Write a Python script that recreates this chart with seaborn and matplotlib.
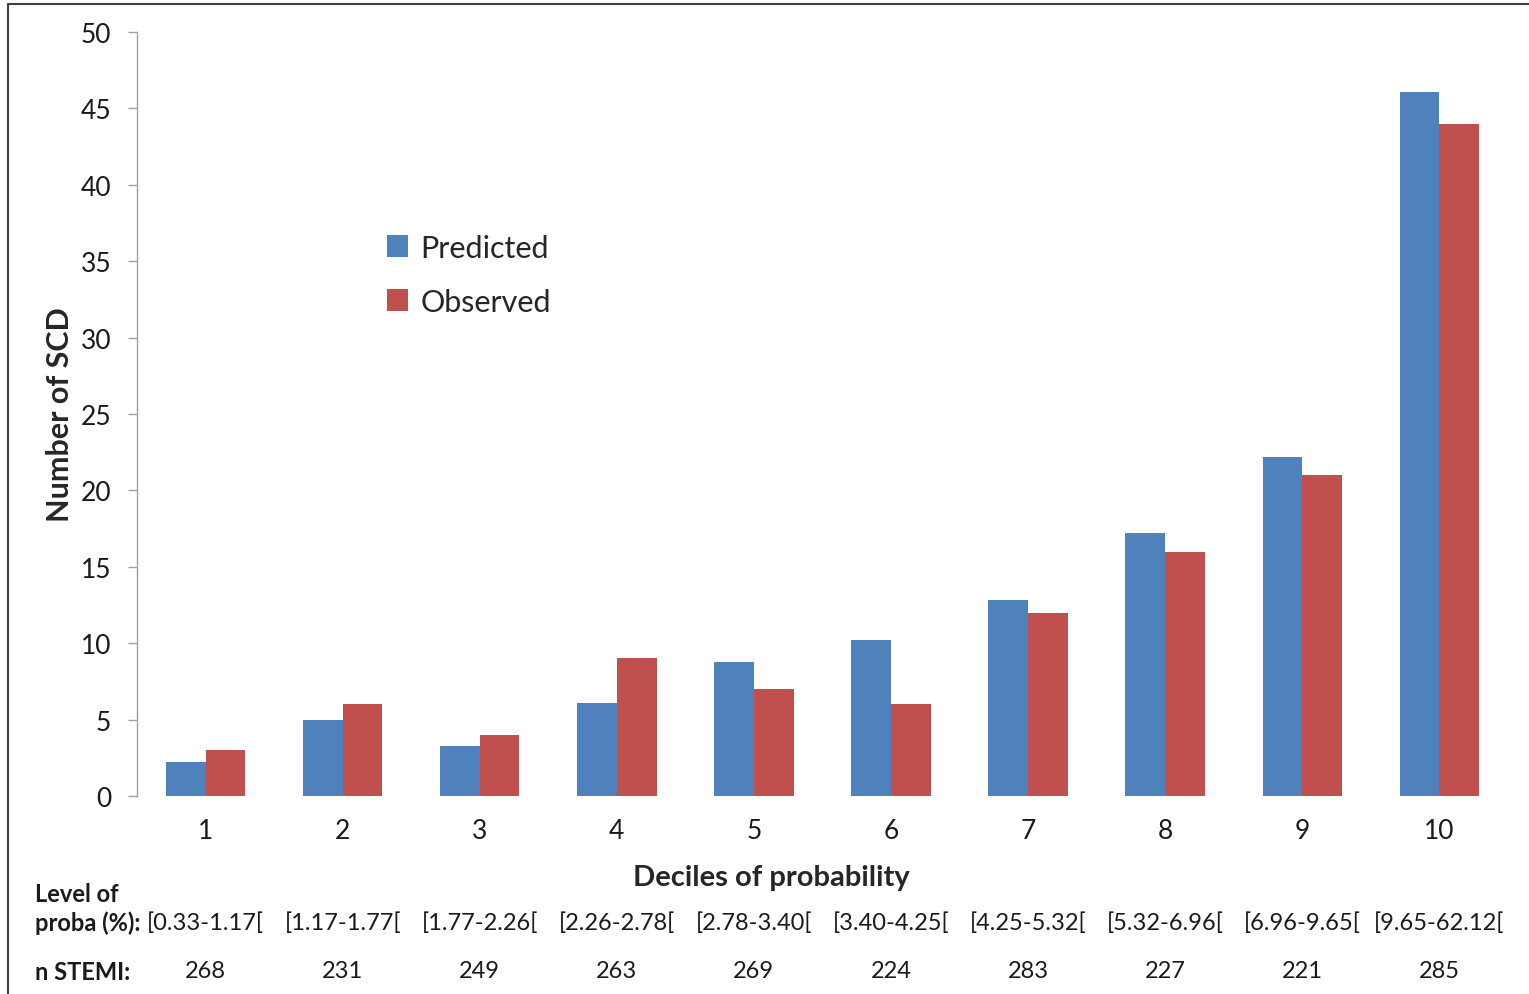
import matplotlib
matplotlib.use("Agg")
import matplotlib.pyplot as plt
import matplotlib.transforms as mtransforms
from matplotlib.lines import Line2D
from matplotlib.patches import Patch
import seaborn as sns
import pandas as pd

deciles = ["1", "2", "3", "4", "5", "6", "7", "8", "9", "10"]
predicted = [2.2, 5.0, 3.3, 6.1, 8.8, 10.2, 12.8, 17.2, 22.2, 46.1]
observed = [3, 6, 4, 9, 7, 6, 12, 16, 21, 44]
proba_levels = ["[0.33-1.17[", "[1.17-1.77[", "[1.77-2.26[", "[2.26-2.78[", "[2.78-3.40[",
                "[3.40-4.25[", "[4.25-5.32[", "[5.32-6.96[", "[6.96-9.65[", "[9.65-62.12["]
n_stemi = ["268", "231", "249", "263", "269", "224", "283", "227", "221", "285"]
series_names = ["Predicted", "Observed"]
colors = ["#4F81BD", "#C0504D"]

df = pd.DataFrame({
    "Decile": deciles * 2,
    "Series": [series_names[0]] * len(deciles) + [series_names[1]] * len(deciles),
    "Value": predicted + observed,
})

sns.set_theme(style="white")
plt.rcParams["font.family"] = ["Lato", "DejaVu Sans"]

fig = plt.figure(figsize=(15.29, 9.95), dpi=100)
ax = fig.add_axes([0.0896, 0.199, 0.8966, 0.7678])

sns.barplot(data=df, x="Decile", y="Value", hue="Series", order=deciles,
            hue_order=series_names, palette=colors, width=0.58, saturation=1,
            ax=ax, legend=False, linewidth=0)

ax.set_xlim(-0.5, 9.5)
ax.set_ylim(0, 50)
ax.set_yticks(range(0, 51, 5))
ax.tick_params(axis="y", direction="out", length=6.5, width=1, color="#A0A0A0",
               labelsize=19, pad=12, left=True)
ax.tick_params(axis="x", length=0, labelsize=19, pad=16)
for lab in ax.get_xticklabels() + ax.get_yticklabels():
    lab.set_color("#1a1a1a")

for s in ["top", "right", "bottom"]:
    ax.spines[s].set_visible(False)
ax.spines["left"].set_color("#A0A0A0")
ax.spines["left"].set_linewidth(1)

ax.set_ylabel("Number of SCD", fontsize=22, fontweight="bold", labelpad=5)
ax.set_xlabel("Deciles of probability", fontsize=21, fontweight="bold", labelpad=15)
ax.xaxis.label.set_x(0.463)

handles = [Patch(facecolor=c, edgecolor="none") for c in colors]
ax.legend(handles, series_names, loc="upper left", bbox_to_anchor=(0.162, 0.772),
          frameon=False, fontsize=22, handlelength=0.7, handleheight=0.7,
          handletextpad=0.4, labelspacing=0.85)

# table rows below the axis
trans = mtransforms.blended_transform_factory(ax.transData, fig.transFigure)
y_proba = 1 - 923 / 995
y_n = 1 - 972 / 995
for i in range(len(deciles)):
    ax.text(i, y_proba, proba_levels[i], transform=trans, ha="center", va="center",
            fontsize=17, color="#1a1a1a")
    ax.text(i, y_n, n_stemi[i], transform=trans, ha="center", va="center",
            fontsize=17, color="#1a1a1a")

fig.text(35 / 1529, 1 - 895 / 995, "Level of", ha="left", va="center",
         fontsize=17, fontweight="bold", color="#1a1a1a")
fig.text(35 / 1529, y_proba, "proba (%):", ha="left", va="center",
         fontsize=17, fontweight="bold", color="#1a1a1a")
fig.text(35 / 1529, y_n, "n STEMI:", ha="left", va="center",
         fontsize=17, fontweight="bold", color="#1a1a1a")

# outer frame (left and top)
fig.add_artist(Line2D([8 / 1529, 8 / 1529], [0, 1 - 5 / 995], transform=fig.transFigure,
                      color="#404040", linewidth=1.5))
fig.add_artist(Line2D([8 / 1529, 1], [1 - 5 / 995, 1 - 5 / 995], transform=fig.transFigure,
                      color="#404040", linewidth=1.5))

fig.savefig("out.png", dpi=100, facecolor="white")
